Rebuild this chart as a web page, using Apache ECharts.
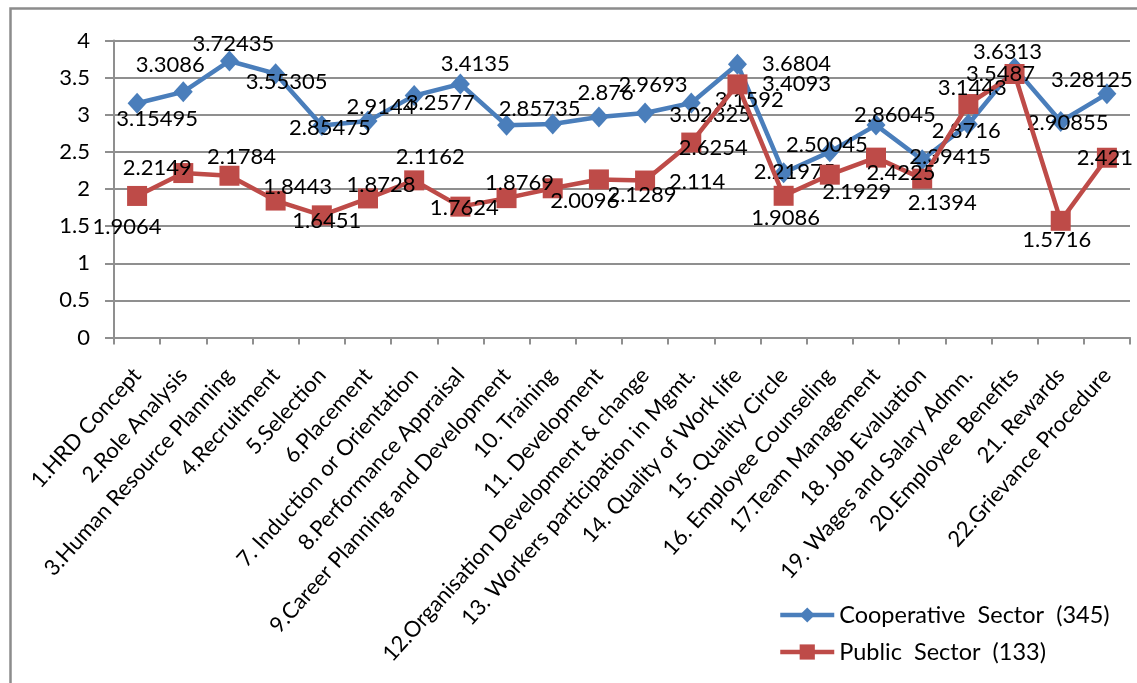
<!DOCTYPE html>
<html>
<head>
<meta charset="utf-8">
<script src="https://cdn.jsdelivr.net/npm/echarts@6/dist/echarts.min.js"></script>
<style>
  html, body { margin: 0; padding: 0; background: #ffffff; }
  #chart { width: 1137px; height: 683px; }
</style>
</head>
<body>
<div id="chart"></div>
<script>
// HRD sub-systems, scored by two groups of respondents
const categories = [
  '1.HRD Concept', '2.Role Analysis', '3.Human Resource Planning', '4.Recruitment',
  '5.Selection', '6.Placement', '7. Induction or Orientation', '8.Performance Appraisal',
  '9.Career Planning and Development', '10. Training', '11. Development',
  '12.Organisation Development & change', '13. Workers participation in Mgmt.',
  '14. Quality of Work life', '15. Quality Circle', '16. Employee Counseling',
  '17.Team Management', '18. Job Evaluation', '19. Wages and Salary Admn.',
  '20.Employee Benefits', '21. Rewards', '22.Grievance Procedure'
];

const cooperativeSector = [
  3.15495, 3.3086, 3.72435, 3.55305, 2.85475, 2.9144, 3.2577, 3.4135, 2.85735, 2.876, 2.9693,
  3.02325, 3.1592, 3.6804, 2.21975, 2.50045, 2.86045, 2.39415, 2.8716, 3.6313, 2.90855, 3.28125
];

const publicSector = [
  1.9064, 2.2149, 2.1784, 1.8443, 1.6451, 1.8728, 2.1162, 1.7624, 1.8769, 2.0096, 2.1289,
  2.114, 2.6254, 3.4093, 1.9086, 2.1929, 2.4225, 2.1394, 3.1443, 3.5487, 1.5716, 2.421
];

const seriesNames = ['Cooperative  Sector  (345)', 'Public  Sector  (133)'];

// Value-label nudges (px) relative to each point, keeping labels clear of the lines
const coopLabelShift = [
  [20, 16], [-13, -27], [4, -17], [11, 8], [8, 2], [13, -14], [26, 7], [15, -20], [33, -16],
  [53, -31], [54, -32], [65, 2], [58, -3], [59, 0], [11, -1], [-3, -7], [19, -10], [28, -3],
  [-2, 7], [-7, -16], [7, 1], [-15, -14]
];
const publicLabelShift = [
  [-10, 31], [-26, -5], [12, -19], [22, -14], [5, 6], [13, -14], [16, -23], [4, 1], [13, -15],
  [32, 13], [43, 15], [52, 1], [22, 5], [59, 0], [2, 22], [27, 17], [25, 15], [20, 24],
  [4, -16], [-14, 0], [-4, 19], [-2, 0]
];

const FONT = 'Lato';
const GRID_GRAY = '#8f8f8f';
const BLUE = '#4A7EBB';
const RED = '#BE4B48';

function withLabels(values, shifts) {
  return values.map((v, i) => ({
    value: v,
    label: { offset: shifts[i] }
  }));
}

const chart = echarts.init(document.getElementById('chart'), null, { renderer: 'canvas' });

chart.setOption({
  backgroundColor: '#ffffff',
  animation: false,
  textStyle: { fontFamily: FONT },
  graphic: [{
    type: 'rect',
    left: 8, top: 6,
    shape: { width: 1140, height: 700 },
    style: { fill: 'none', stroke: '#8c8c8c', lineWidth: 2.5 },
    silent: true,
    z: 0
  }],
  grid: { left: 114, right: 7, top: 40.5, bottom: 345.5, containLabel: false },
  legend: {
    orient: 'vertical',
    left: 773,
    top: 598,
    itemWidth: 54,
    itemHeight: 19,
    itemGap: 13,
    lineStyle: { width: 4.5 },
    textStyle: { fontFamily: FONT, fontSize: 23.5, color: '#000' },
    data: seriesNames
  },
  xAxis: {
    type: 'category',
    data: categories,
    boundaryGap: true,
    axisLine: { lineStyle: { color: GRID_GRAY, width: 2 } },
    axisTick: { show: true, length: 7, lineStyle: { color: GRID_GRAY, width: 2 } },
    axisLabel: {
      interval: 0,
      rotate: 48,
      margin: 34,
      fontFamily: FONT,
      fontSize: 22,
      color: '#000'
    }
  },
  yAxis: {
    type: 'value',
    min: 0,
    max: 4,
    interval: 0.5,
    axisLine: { show: true, lineStyle: { color: GRID_GRAY, width: 2 } },
    axisTick: { show: true, length: 9, lineStyle: { color: GRID_GRAY, width: 2 } },
    splitLine: { show: true, lineStyle: { color: GRID_GRAY, width: 2 } },
    axisLabel: { margin: 24, fontFamily: FONT, fontSize: 22, color: '#000' }
  },
  series: [
    {
      name: seriesNames[0],
      type: 'line',
      data: withLabels(cooperativeSector, coopLabelShift),
      symbol: 'diamond',
      symbolSize: [19, 21],
      showAllSymbol: true,
      color: BLUE,
      lineStyle: { color: BLUE, width: 4.5 },
      itemStyle: { color: BLUE },
      label: {
        show: true,
        position: 'inside',
        fontFamily: FONT,
        fontSize: 22,
        color: '#000',
        formatter: p => String(p.value)
      },
      z: 2
    },
    {
      name: seriesNames[1],
      type: 'line',
      data: withLabels(publicSector, publicLabelShift),
      symbol: 'rect',
      symbolSize: 20,
      showAllSymbol: true,
      color: RED,
      lineStyle: { color: RED, width: 4.5 },
      itemStyle: { color: RED },
      label: {
        show: true,
        position: 'inside',
        fontFamily: FONT,
        fontSize: 22,
        color: '#000',
        formatter: p => String(p.value)
      },
      z: 3
    }
  ]
});
</script>
</body>
</html>
